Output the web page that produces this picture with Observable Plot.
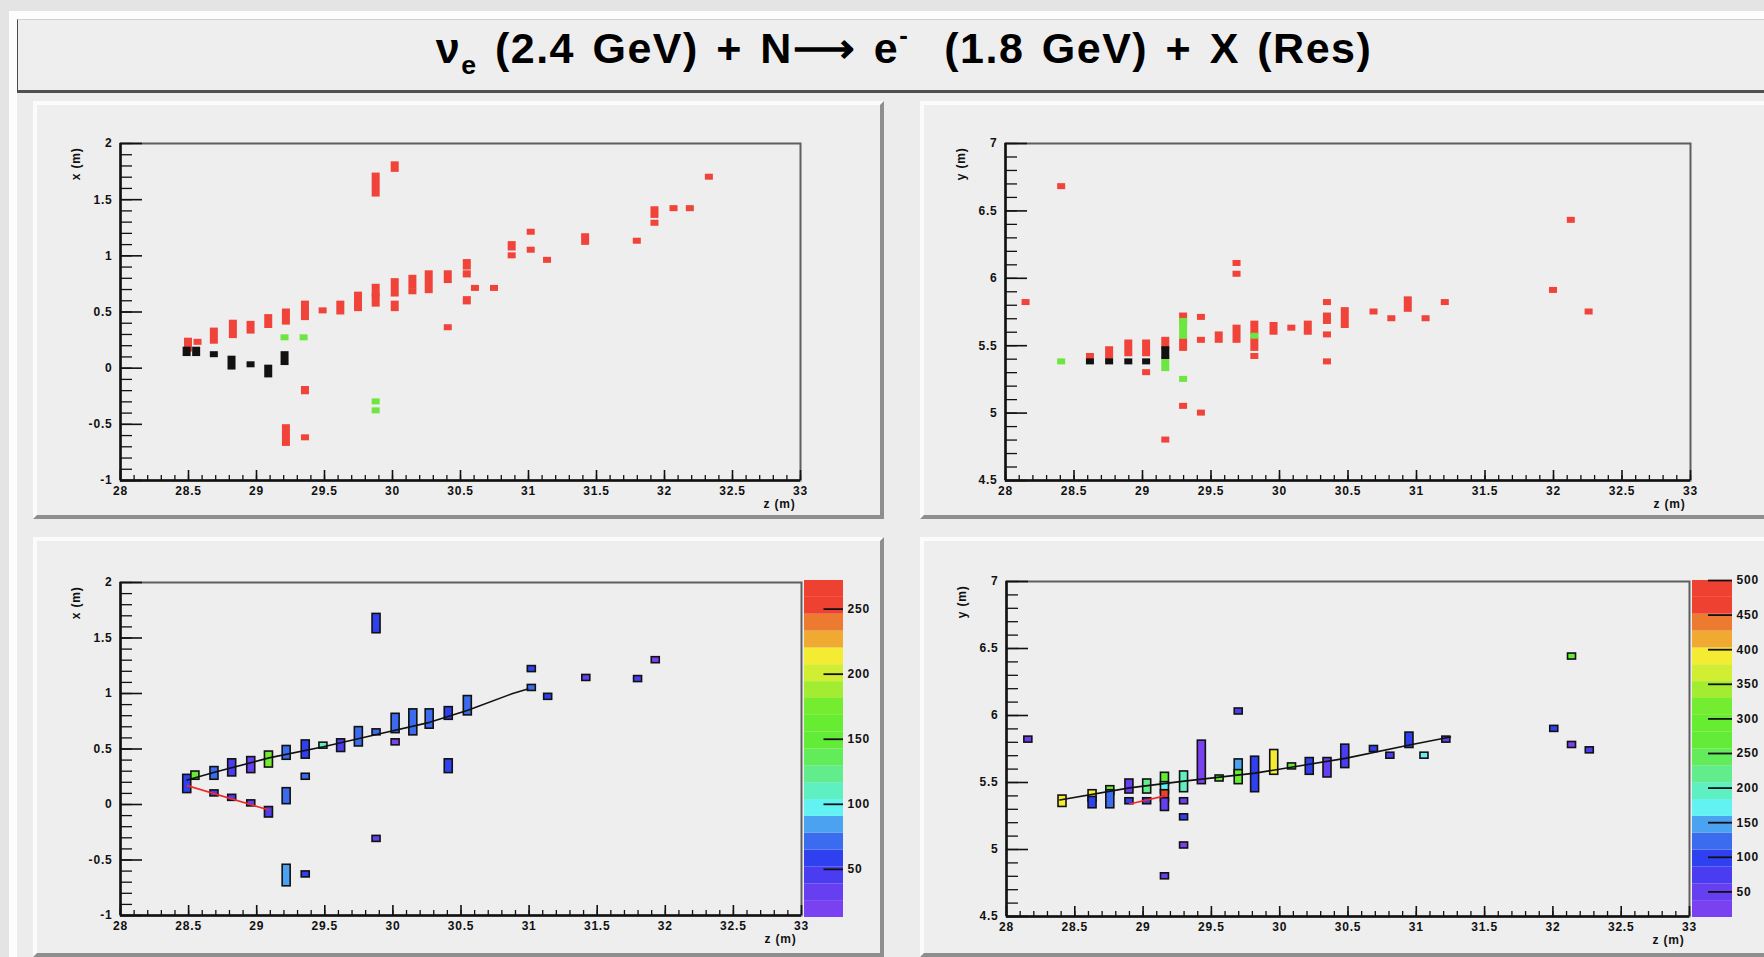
<!DOCTYPE html>
<html><head><meta charset="utf-8">
<script src="https://cdn.jsdelivr.net/npm/d3@7"></script>
<script src="https://cdn.jsdelivr.net/npm/@observablehq/plot@0.6"></script>
<style>
html,body{margin:0;padding:0;width:1764px;height:957px;overflow:hidden;background:#e4e4e4;font-family:"Liberation Sans",Arial,sans-serif;position:relative}
#canvas{position:absolute;left:9px;top:11px;width:1800px;height:1000px;background:#ececec;border-left:8px solid #fdfdfd;border-top:8px solid #fdfdfd}
#titlebox{position:absolute;left:17px;top:19px;width:1790px;height:70px;background:#eeeeee;border-left:1px solid #4a4a4a;border-top:1px solid #d0d0d0;border-bottom:3px solid #505050}
#titletext{position:absolute;left:17px;width:1774px;top:27px;text-align:center;font-size:43px;line-height:43px;font-weight:bold;color:#000;letter-spacing:1.5px;word-spacing:4px;white-space:nowrap}
#titletext sub{font-size:0.62em;vertical-align:-0.4em;line-height:0}
#titletext sup{font-size:0.6em;vertical-align:0.75em;line-height:0}
.panel{position:absolute;box-sizing:border-box;background:#eeeeee;border-top:4px solid #fbfbfb;border-left:4px solid #fbfbfb;border-right:4px solid #8e8e8e;border-bottom:4px solid #8e8e8e}
svg.plotsvg{position:absolute}
</style></head>
<body>
<div id="canvas"></div>
<div id="titlebox"></div>
<div id="titletext">ν<sub>e</sub> (2.4 GeV) + N⟶ e<sup>-</sup>&nbsp; (1.8 GeV) + X (Res)</div>
<div class="panel" style="left:33px;top:101px;width:851px;height:418px"></div>
<div class="panel" style="left:920px;top:101px;width:900px;height:418px"></div>
<div class="panel" style="left:33px;top:537px;width:851px;height:420px"></div>
<div class="panel" style="left:920px;top:537px;width:900px;height:420px"></div>
<script>
// ---------------- data ----------------
const X_DOMAIN = [28, 33];
const X_TICKS = [28, 28.5, 29, 29.5, 30, 30.5, 31, 31.5, 32, 32.5, 33];
const XVIEW_DOMAIN = [-1, 2];
const XVIEW_TICKS = [-1, -0.5, 0, 0.5, 1, 1.5, 2];
const YVIEW_DOMAIN = [4.5, 7];
const YVIEW_TICKS = [4.5, 5, 5.5, 6, 6.5, 7];

// top-left: x view hits [z, xLow, xHigh]
const tlRed = [
  [28.50,0.17,0.24],[28.57,0.23,0.23],[28.69,0.24,0.33],[28.83,0.29,0.40],[28.96,0.33,0.39],
  [29.09,0.38,0.45],[29.22,0.41,0.50],[29.36,0.45,0.57],[29.49,0.51,0.51],[29.62,0.50,0.57],
  [29.75,0.53,0.65],[29.88,0.57,0.63],[29.88,0.66,0.72],[30.02,0.66,0.77],[30.02,0.53,0.57],
  [30.15,0.73,0.80],[30.15,0.68,0.68],[30.27,0.69,0.84],[30.41,0.78,0.84],[30.41,0.36,0.36],
  [30.55,0.90,0.94],[30.55,0.83,0.84],[30.55,0.59,0.61],[30.61,0.71,0.71],[30.75,0.71,0.71],
  [30.88,1.07,1.10],[30.88,1.00,1.00],[31.02,1.21,1.21],[31.02,1.05,1.05],[31.14,0.96,0.96],
  [31.42,1.12,1.17],[31.80,1.13,1.13],[31.93,1.36,1.41],[31.93,1.29,1.29],[32.07,1.42,1.42],
  [32.19,1.42,1.42],[32.33,1.70,1.70],[29.88,1.55,1.71],[30.02,1.77,1.81],[29.36,-0.21,-0.19],
  [29.22,-0.67,-0.53],[29.36,-0.62,-0.62]
];
const tlGreen = [[29.21,0.27,0.27],[29.35,0.27,0.27],[29.88,-0.30,-0.30],[29.88,-0.38,-0.38]];
const tlBlack = [[28.49,0.13,0.16],[28.56,0.13,0.16],[28.69,0.12,0.12],[28.82,0.01,0.08],
  [28.96,0.03,0.03],[29.09,-0.06,0.0],[29.21,0.05,0.12]];

// top-right: y view hits [z, yLow, yHigh]
const trRed = [
  [28.15,5.82,5.82],[28.41,6.68,6.68],[28.62,5.42,5.42],[28.76,5.42,5.47],[28.90,5.44,5.52],
  [29.03,5.44,5.52],[29.03,5.30,5.30],[29.17,5.49,5.54],[29.17,4.80,4.80],[29.30,5.69,5.72],
  [29.30,5.48,5.53],[29.30,5.05,5.05],[29.43,5.71,5.71],[29.43,5.54,5.54],[29.43,5.00,5.00],
  [29.56,5.54,5.58],[29.69,6.11,6.11],[29.69,6.03,6.03],[29.69,5.54,5.63],[29.82,5.60,5.66],
  [29.82,5.48,5.54],[29.82,5.42,5.42],[29.96,5.60,5.65],[30.09,5.63,5.63],[30.21,5.60,5.66],
  [30.35,5.82,5.82],[30.35,5.68,5.72],[30.35,5.58,5.58],[30.35,5.38,5.38],[30.48,5.65,5.76],
  [30.69,5.75,5.75],[30.82,5.70,5.70],[30.94,5.77,5.84],[31.07,5.70,5.70],[31.21,5.82,5.82],
  [32.00,5.91,5.91],[32.13,6.43,6.43],[32.26,5.75,5.75]
];
const trGreen = [[28.41,5.38,5.38],[29.17,5.33,5.40],[29.30,5.57,5.68],[29.30,5.25,5.25],[29.82,5.57,5.57]];
const trBlack = [[28.62,5.38,5.38],[28.76,5.38,5.38],[28.90,5.38,5.38],[29.03,5.38,5.38],[29.17,5.42,5.47]];

// bottom-left: x view reconstructed hits [z, xLow, xHigh, charge]
const blHits = [
  [28.49,0.13,0.24,60],[28.55,0.25,0.27,160],[28.69,0.25,0.31,70],[28.82,0.28,0.38,45],
  [28.96,0.31,0.40,35],[29.09,0.36,0.45,170],[29.22,0.43,0.50,70],[29.36,0.44,0.55,60],
  [29.49,0.53,0.53,110],[29.62,0.50,0.56,40],[29.75,0.55,0.67,65],[29.88,0.65,0.65,70],
  [30.02,0.67,0.79,75],[30.02,0.56,0.56,20],[30.15,0.65,0.83,70],[30.27,0.71,0.83,65],
  [30.41,0.79,0.85,60],[30.41,0.31,0.38,55],[30.55,0.83,0.95,65],[31.02,1.22,1.22,55],
  [31.02,1.05,1.05,70],[31.14,0.97,0.97,60],[31.42,1.14,1.14,35],[31.80,1.13,1.13,40],
  [31.93,1.30,1.30,15],[29.88,1.57,1.69,55],[29.22,0.03,0.12,65],[29.36,0.25,0.25,70],
  [28.69,0.10,0.10,45],[28.82,0.06,0.06,50],[28.96,0.01,0.01,35],[29.09,-0.09,-0.05,40],
  [29.88,-0.31,-0.31,30],[29.22,-0.71,-0.57,80],[29.36,-0.63,-0.63,60]
];
const blTrackMain = [[28.49,0.22],[28.69,0.29],[29.09,0.42],[29.49,0.52],[29.88,0.63],[30.27,0.74],[30.55,0.85],[30.88,1.00],[30.99,1.04]];
const blTrackSecond = [[28.49,0.17],[29.09,-0.05]];

// bottom-right: y view reconstructed hits [z, yLow, yHigh, charge]
const brHits = [
  [28.16,5.82,5.82,40],[28.41,5.34,5.38,390],[28.63,5.38,5.42,400],[28.63,5.33,5.37,90],
  [28.76,5.43,5.45,300],[28.76,5.33,5.42,120],[28.90,5.44,5.50,50],[28.90,5.36,5.36,90],
  [29.03,5.44,5.50,210],[29.03,5.36,5.36,90],[29.16,5.50,5.55,270],[29.16,5.44,5.48,180],
  [29.16,5.38,5.42,480],[29.16,5.31,5.36,40],[29.30,5.45,5.56,190],[29.30,5.36,5.36,40],
  [29.30,5.24,5.24,90],[29.30,5.03,5.03,35],[29.16,4.80,4.80,40],[29.43,5.51,5.79,30],
  [29.56,5.53,5.53,270],[29.70,6.03,6.03,80],[29.70,5.58,5.65,150],[29.70,5.51,5.57,300],
  [29.82,5.45,5.67,90],[29.96,5.58,5.72,400],[30.09,5.62,5.62,280],[30.22,5.58,5.66,100],
  [30.35,5.56,5.66,40],[30.48,5.63,5.76,80],[30.69,5.75,5.75,90],[30.81,5.70,5.70,70],
  [30.95,5.78,5.85,90],[31.06,5.70,5.70,180],[31.22,5.82,5.82,40],[32.01,5.90,5.90,110],
  [32.14,6.44,6.44,280],[32.14,5.78,5.78,30],[32.27,5.74,5.74,70]
];
const brTrackMain = [[28.39,5.37],[28.90,5.46],[29.30,5.51],[29.82,5.57],[30.48,5.68],[30.95,5.78],[31.25,5.84]];
const brTrackSecond = [[28.90,5.34],[29.16,5.40]];

const CHARGE_RANGE_X = [13, 272];
const CHARGE_RANGE_Y = [13, 500];
const CBAR_TICKS_X = [50, 100, 150, 200, 250];
const CBAR_TICKS_Y = [50, 100, 150, 200, 250, 300, 350, 400, 450, 500];
const PALETTE = ["#7a41f2","#6640f0","#4a3cf0","#2f40f0","#3b6cf0","#4aa2f0","#62f2f2","#5ef0c0",
  "#62ec8c","#63ec5a","#62ec38","#66ec30","#74ec30","#a2ec32","#d2ee33","#f4ec33","#f0aa32","#ec7a30","#ef4131","#ef4131"];

// ---------------- styles ----------------
const RED = "#f0433a", GREEN = "#6ee640", INK = "#111111";
const FONT = "Liberation Sans, Arial, sans-serif";
const ML = 70, MR = 30, MT = 20, MB = 50;

function place(svg, left, top) {
  svg.classList.add("plotsvg");
  svg.style.left = left + "px";
  svg.style.top = top + "px";
  document.body.appendChild(svg);
}

function frameMarks(yDom, yTicks, fw, fh, xTitle, yTitle) {
  const [x0, x1] = X_DOMAIN, [y0, y1] = yDom;
  const kx = (x1 - x0) / fw, ky = (y1 - y0) / fh;
  const xMinor = d3.range(x0, x1 + 1e-9, 0.1);
  const yMinor = d3.range(y0, y1 + 1e-9, 0.1);
  const txt = {fill: INK, fontWeight: "bold", fontSize: 12};
  return [
    Plot.frame({stroke: "#5e5e5e", strokeWidth: 2}),
    Plot.ruleX(xMinor, {x: d => d, y1: () => y0, y2: () => y0 + 5 * ky, stroke: INK, strokeWidth: 1.3}),
    Plot.ruleX(X_TICKS, {x: d => d, y1: () => y0, y2: () => y0 + 10 * ky, stroke: INK, strokeWidth: 1.6}),
    Plot.ruleY(yMinor, {y: d => d, x1: () => x0, x2: () => x0 + 12 * kx, stroke: INK, strokeWidth: 1.3}),
    Plot.ruleY(yTicks, {y: d => d, x1: () => x0, x2: () => x0 + 22 * kx, stroke: INK, strokeWidth: 1.6}),
    Plot.ruleY([y0], {stroke: INK, strokeWidth: 2.5}),
    Plot.ruleX([x0], {stroke: INK, strokeWidth: 2.5}),
    Plot.text(X_TICKS, {x: d => d, y: () => y0, text: d => String(d), dy: 11, ...txt}),
    Plot.text(yTicks, {x: () => x0, y: d => d, text: d => String(d), dx: -8, textAnchor: "end", ...txt}),
    Plot.text([xTitle], {frameAnchor: "bottom-right", text: d => d, dx: -5, dy: 27, textAnchor: "end", ...txt}),
    Plot.text([yTitle], {frameAnchor: "top-left", text: d => d, rotate: -90, textAnchor: "end", dx: -49, dy: 4, ...txt})
  ];
}

function hitRect(data, opts) {
  return Plot.rect(data, {x1: d => d[0], x2: d => d[0], y1: d => d[1], y2: d => d[2],
    insetLeft: -4, insetRight: -4, insetTop: -3, insetBottom: -3, ...opts});
}

function colorScale(range) {
  const [a, b] = range;
  const thresholds = d3.range(1, PALETTE.length).map(i => a + i * (b - a) / PALETTE.length);
  return {type: "threshold", domain: thresholds, range: PALETTE};
}

function makePlot(g, yDom, yTicks, xTitle, yTitle, marks, color) {
  const svg = Plot.plot({
    width: g.fw + ML + MR, height: g.fh + MT + MB,
    marginLeft: ML, marginRight: MR, marginTop: MT, marginBottom: MB,
    x: {domain: X_DOMAIN, axis: null},
    y: {domain: yDom, axis: null},
    color,
    style: {background: "transparent", fontFamily: FONT, overflow: "visible", letterSpacing: "0.8px"},
    marks: [...marks, ...frameMarks(yDom, yTicks, g.fw, g.fh, xTitle, yTitle)]
  });
  place(svg, g.fx - ML, g.fy - MT);
}

function makeColorbar(g, range, ticks, tickStart) {
  const [a, b] = range;
  const step = (b - a) / PALETTE.length;
  const bands = PALETTE.map((c, i) => ({lo: a + i * step, hi: a + (i + 1) * step, c}));
  const svg = Plot.plot({
    width: g.w + 70, height: g.h + 20,
    marginLeft: 0, marginRight: 70, marginTop: 10, marginBottom: 10,
    x: {domain: [0, 1], axis: null},
    y: {domain: range, axis: null},
    color: {type: "identity"},
    style: {background: "transparent", fontFamily: FONT, overflow: "visible", letterSpacing: "0.8px"},
    marks: [
      Plot.rect(bands, {y1: d => d.lo, y2: d => d.hi, fill: d => d.c}),
      Plot.ruleY(ticks, {y: d => d, x1: () => tickStart, x2: () => 1, stroke: INK, strokeWidth: 1.8}),
      Plot.text(ticks, {x: () => 1, y: d => d, text: d => String(d), dx: 4, textAnchor: "start", fill: INK, fontWeight: "bold", fontSize: 12})
    ]
  });
  place(svg, g.x, g.y - 10);
}

// ---------------- panels ----------------
const gTL = {fx: 120, fy: 143, fw: 680, fh: 337};
const gTR = {fx: 1005, fy: 143, fw: 685, fh: 337};
const gBL = {fx: 120, fy: 582, fw: 681, fh: 333};
const gBR = {fx: 1006, fy: 581, fw: 683, fh: 335};

makePlot(gTL, XVIEW_DOMAIN, XVIEW_TICKS, "z (m)", "x (m)", [
  hitRect(tlRed, {fill: RED}),
  hitRect(tlGreen, {fill: GREEN}),
  hitRect(tlBlack, {fill: INK})
]);

makePlot(gTR, YVIEW_DOMAIN, YVIEW_TICKS, "z (m)", "y (m)", [
  hitRect(trRed, {fill: RED}),
  hitRect(trGreen, {fill: GREEN}),
  hitRect(trBlack, {fill: INK})
]);

makePlot(gBL, XVIEW_DOMAIN, XVIEW_TICKS, "z (m)", "x (m)", [
  hitRect(blHits, {fill: d => d[3], stroke: INK, strokeWidth: 1.6}),
  Plot.line(blTrackMain, {x: d => d[0], y: d => d[1], stroke: INK, strokeWidth: 1.6}),
  Plot.line(blTrackSecond, {x: d => d[0], y: d => d[1], stroke: "#ee2a2a", strokeWidth: 1.6})
], colorScale(CHARGE_RANGE_X));

makePlot(gBR, YVIEW_DOMAIN, YVIEW_TICKS, "z (m)", "y (m)", [
  hitRect(brHits, {fill: d => d[3], stroke: INK, strokeWidth: 1.6}),
  Plot.line(brTrackMain, {x: d => d[0], y: d => d[1], stroke: INK, strokeWidth: 1.6}),
  Plot.line(brTrackSecond, {x: d => d[0], y: d => d[1], stroke: "#ee2a2a", strokeWidth: 1.6})
], colorScale(CHARGE_RANGE_Y));

makeColorbar({x: 804, y: 580, w: 39, h: 337}, CHARGE_RANGE_X, CBAR_TICKS_X, 0.5);
makeColorbar({x: 1692, y: 580, w: 40, h: 337}, CHARGE_RANGE_Y, CBAR_TICKS_Y, 0.4);
</script>
</body></html>
